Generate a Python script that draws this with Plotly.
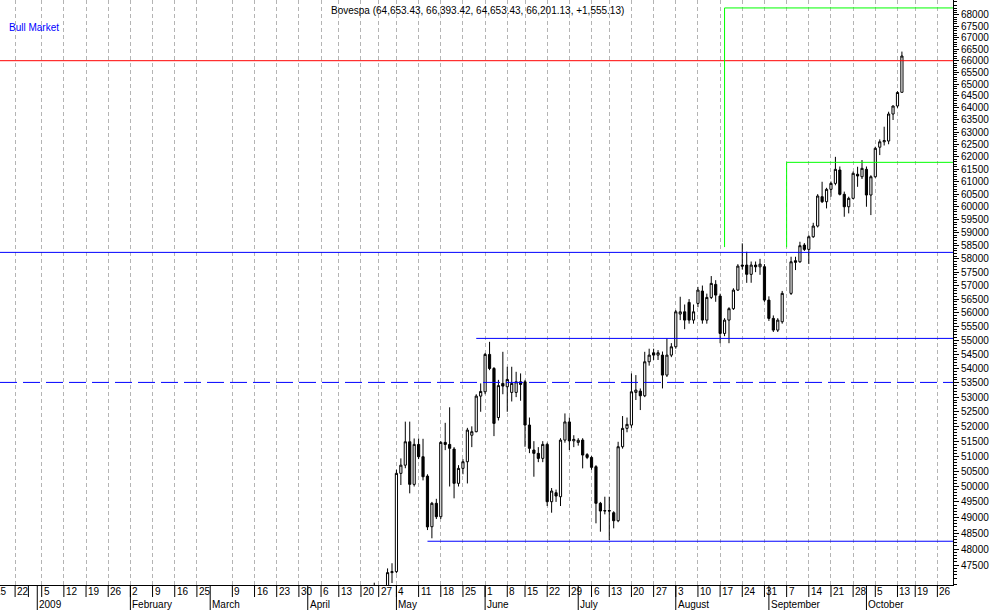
import plotly.graph_objects as go
import pandas as pd

# ---------------- calendar (trading days shown on the axis) ----------------
holidays = ["2008-12-24", "2008-12-25", "2008-12-31", "2009-01-01", "2009-02-23", "2009-02-24",
            "2009-04-10", "2009-04-21", "2009-05-01", "2009-06-11", "2009-07-09", "2009-10-12"]
no_data_dates = ["2009-09-07"]   # slot on the axis but no bar
cal = [d.strftime("%Y-%m-%d") for d in pd.bdate_range("2008-12-15", "2009-10-30")
       if d.strftime("%Y-%m-%d") not in holidays]
base = cal.index("2009-01-05")
pos = {d: k - base for k, d in enumerate(cal)}

# ---------------- data ----------------
dates = [d for d in cal if "2009-04-24" <= d <= "2009-10-14" and d not in no_data_dates]
opens = [46300, 46500, 45800, 46200, 47270, 47300, 50430, 50700, 51480, 50070,
         51390, 50980, 50340, 48706, 49455, 49025, 51460, 51390, 51236, 50103,
         50595, 50814, 51700, 51818, 53036, 53185, 54497, 54000, 52300, 53476,
         53360, 53164, 53164, 53532, 53532, 52044, 51203, 51092, 50925, 51392,
         49506, 49798, 49668, 51537, 52150, 51510, 51460, 51537, 51050, 50958,
         50650, 49455, 49207, 49220, 49153, 48897, 51314, 51932, 52044, 53164,
         53209, 53047, 54236, 54554, 54472, 54472, 53767, 54472, 54769, 55950,
         56032, 56377, 55730, 56340, 56795, 55730, 56560, 57043, 56610, 55248,
         55730, 56146, 56832, 57766, 57766, 57418, 57766, 57700, 57704, 56462,
         55792, 55368, 55669, 56710, 57930, 57890, 58524, 58360, 58842,
         59254, 60400, 60202, 60690, 60926, 61459, 60493, 60005, 60335, 61290,
         61191, 61487, 60465, 61190, 62380, 62600, 62633, 63745, 64079, 64653.43]
highs = [46960, 46700, 46400, 47400, 47560, 50550, 50925, 52160, 52160, 51590,
         51590, 51580, 50400, 49500, 49600, 51500, 52120, 52650, 51300, 50700,
         50900, 51950, 52000, 53100, 53476, 54550, 54946, 54050, 53600, 54590,
         54060, 54060, 53883, 53826, 53600, 52300, 51500, 51300, 51500, 51450,
         49950, 49900, 51600, 52440, 52300, 51700, 51600, 51600, 51100, 51000,
         50700, 49500, 49668, 49668, 49200, 51480, 52350, 52300, 53825, 53767,
         53300, 54590, 54700, 54700, 54650, 54600, 55067, 54900, 56100, 56585,
         56300, 56500, 56300, 56950, 57000, 56700, 57354, 57200, 56700, 55800,
         56200, 56900, 57800, 58589, 58270, 57900, 57900, 58000, 57800, 56600,
         55900, 55800, 56800, 58080, 58080, 58650, 58600, 58900, 59380,
         60500, 60990, 60750, 61000, 61990, 61600, 60600, 60400, 61400, 61590,
         61860, 61600, 61250, 62400, 62700, 63220, 63840, 64100, 64700, 66393.42]
lows = [46000, 45500, 45200, 46100, 46950, 47250, 50048, 50600, 49778, 50000,
        50900, 50200, 48600, 48340, 48950, 48950, 51200, 50000, 49616, 50000,
        50400, 50100, 51300, 51800, 52497, 53100, 53940, 51670, 52200, 53100,
        52497, 52850, 53000, 52875, 51314, 51100, 50320, 50800, 50800, 49368,
        49153, 49500, 49368, 51450, 51203, 51300, 51350, 50595, 50900, 50550,
        48814, 48548, 49100, 48286, 48655, 48850, 51250, 51800, 51950, 52900,
        52555, 53000, 54100, 54300, 54300, 53302, 53700, 54400, 54700, 55730,
        55400, 55600, 55600, 56200, 55600, 55600, 56500, 56400, 54897, 55150,
        54897, 56100, 56800, 57600, 57100, 57104, 57500, 57400, 56400, 55700,
        55300, 55300, 55600, 56650, 57578, 57850, 58300, 57804, 58800,
        59200, 60150, 59940, 60400, 60850, 60450, 59615, 59746, 60300, 60790,
        61100, 60005, 59680, 61150, 62060, 62450, 62500, 63496, 64000, 64653.43]
closes = [46600, 45800, 46200, 47270, 47300, 50430, 50700, 51480, 50070, 51392,
          50980, 50320, 48700, 49455, 49025, 51460, 51390, 51260, 50103, 50595,
          50814, 51874, 51818, 53036, 53197, 54497, 54000, 52100, 53400, 53383,
          53615, 53476, 53532, 53441, 52044, 51260, 51092, 50925, 51392, 49506,
          49853, 49690, 51537, 52150, 51510, 51560, 51530, 51036, 50958, 50628,
          49455, 49207, 49220, 49210, 48897, 51314, 51932, 52068, 53185, 53244,
          53047, 54236, 54472, 54472, 54554, 53767, 54472, 54769, 56032, 56032,
          55730, 55730, 56032, 56832, 55730, 56560, 57080, 56646, 55248, 55730,
          56146, 56832, 57728, 57728, 57418, 57766, 57700, 57800, 56462, 55792,
          55368, 55730, 56710, 57890, 57870, 58500, 58360, 58842, 59254,
          60427, 60202, 60690, 60926, 61487, 60493, 60005, 60335, 61327, 61220,
          61527, 60465, 61190, 62335, 62600, 62650, 63745, 64079, 64646, 66201.13]

# axis labels
week_dates = ["2008-12-15", "2008-12-22", "2009-01-05", "2009-01-12", "2009-01-19", "2009-01-26",
              "2009-02-02", "2009-02-09", "2009-02-16", "2009-02-25", "2009-03-09", "2009-03-16",
              "2009-03-23", "2009-03-30", "2009-04-06", "2009-04-13", "2009-04-20", "2009-04-27",
              "2009-05-04", "2009-05-11", "2009-05-18", "2009-05-25", "2009-06-01", "2009-06-08",
              "2009-06-15", "2009-06-22", "2009-06-29", "2009-07-06", "2009-07-13", "2009-07-20",
              "2009-07-27", "2009-08-03", "2009-08-10", "2009-08-17", "2009-08-24", "2009-08-31",
              "2009-09-07", "2009-09-14", "2009-09-21", "2009-09-28", "2009-10-05", "2009-10-13",
              "2009-10-19", "2009-10-26"]
week_labels = [d[-2:].lstrip("0") for d in week_dates]
blank_week_dates = ["2008-12-29"]
month_dates = ["2009-01-02", "2009-02-02", "2009-03-02", "2009-04-01", "2009-05-04",
               "2009-06-01", "2009-07-01", "2009-08-03", "2009-09-01", "2009-10-01"]
month_labels = ["2009", "February", "March", "April", "May", "June", "July", "August",
                "September", "October"]
ytick_vals = list(range(47500, 68001, 500))
yminor_vals = [v for v in range(46900, 68700, 100) if v % 500 != 0]

# study lines
red_level = 66000
blue_levels_full = [58246]
blue_dashed_level = 53511
blue_partial = [("2009-05-28", 55069), ("2009-05-13", 48247)]
green_boxes = [("2009-08-18", 58447, 68309), ("2009-09-07", 58440, 61768)]

title_text = "Bovespa (64,653.43, 66,393.42, 64,653.43, 66,201.13, +1,555.13)"

# ---------------- figure ----------------
XMIN, XMAX = -9.4046, 205.52
FONT = "Liberation Sans, Arial, sans-serif"


def to_paper(i):
    # axis position -> paper fraction (for label boxes below the axis)
    return (i - XMIN) / (XMAX - XMIN)


fig = go.Figure()
fig.add_trace(go.Candlestick(
    x=[pos[d] for d in dates], open=opens, high=highs, low=lows, close=closes,
    increasing=dict(line=dict(color="black", width=1), fillcolor="white"),
    decreasing=dict(line=dict(color="black", width=1), fillcolor="black"),
    whiskerwidth=0, showlegend=False, hoverinfo="skip"))


def hline(x0, y, color, dash="solid"):
    fig.add_trace(go.Scatter(x=[x0, XMAX], y=[y, y], mode="lines",
                             line=dict(color=color, width=1, dash=dash),
                             showlegend=False, hoverinfo="skip"))


hline(XMIN, red_level, "#ff0000")
for v in blue_levels_full:
    hline(XMIN, v, "#0000ff")
hline(XMIN, blue_dashed_level, "#0000ff", dash="17px,6px")
for d, v in blue_partial:
    hline(pos[d], v, "#0000ff")
for d, lo, hi in green_boxes:
    fig.add_trace(go.Scatter(x=[pos[d], pos[d], XMAX], y=[lo, hi, hi], mode="lines",
                             line=dict(color="#00ff00", width=1),
                             showlegend=False, hoverinfo="skip"))

# x-axis label boxes
ann = []
shapes = []
for d, t in zip(week_dates, week_labels):
    ann.append(dict(x=to_paper(pos[d]), y=-6 / 585, xref="paper", yref="paper", text=t,
                    showarrow=False, xanchor="left", yanchor="middle",
                    font=dict(family=FONT, size=10, color="black")))
    shapes.append(dict(type="line", xref="x", yref="paper", x0=pos[d], x1=pos[d],
                       y0=0, y1=-12 / 585, line=dict(color="black", width=1)))
for d in blank_week_dates:
    shapes.append(dict(type="line", xref="x", yref="paper", x0=pos[d], x1=pos[d],
                       y0=0, y1=-12 / 585, line=dict(color="black", width=1)))
for d, t in zip(month_dates, month_labels):
    ann.append(dict(x=to_paper(pos[d]), y=-19.5 / 585, xref="paper", yref="paper", text=t,
                    showarrow=False, xanchor="left", yanchor="middle",
                    font=dict(family=FONT, size=10, color="black")))
    shapes.append(dict(type="line", xref="x", yref="paper", x0=pos[d], x1=pos[d],
                       y0=0, y1=-25 / 585, line=dict(color="black", width=1)))

ann.append(dict(x=477 / 953, y=1 - 10 / 585, xref="paper", yref="paper", text=title_text,
                showarrow=False, xanchor="center", yanchor="middle",
                font=dict(family=FONT, size=10, color="black")))
ann.append(dict(x=7 / 953, y=1 - 27 / 585, xref="paper", yref="paper", text="Bull Market",
                showarrow=False, xanchor="left", yanchor="middle",
                font=dict(family=FONT, size=10, color="#0000ff")))

fig.update_layout(
    width=994, height=610,
    margin=dict(l=0, r=41, t=0, b=25),
    paper_bgcolor="white", plot_bgcolor="white",
    annotations=ann, shapes=shapes,
    showlegend=False,
    xaxis=dict(range=[XMIN, XMAX], rangeslider=dict(visible=False),
               tickmode="array", tickvals=[pos[d] for d in week_dates],
               showticklabels=False, ticks="",
               showgrid=True, gridcolor="#b4b4b4", griddash="4px,3px", gridwidth=1,
               showline=True, linecolor="black", linewidth=1, zeroline=False,
               fixedrange=True),
    yaxis=dict(type="log", side="right", range=[4.67108, 4.83673],
               tickmode="array", tickvals=ytick_vals, ticktext=[str(v) for v in ytick_vals],
               ticks="outside", ticklen=5, tickcolor="black", tickwidth=1,
               minor=dict(tickmode="array", tickvals=yminor_vals, ticks="outside",
                          ticklen=3, tickcolor="black", showgrid=False),
               showgrid=False, showline=True, linecolor="black", linewidth=1,
               zeroline=False, tickfont=dict(family=FONT, size=10, color="black"),
               fixedrange=True),
)

fig.write_html("out.html", config={"displayModeBar": False},
               post_script="document.body.style.margin='0';document.body.style.overflow='hidden';")
